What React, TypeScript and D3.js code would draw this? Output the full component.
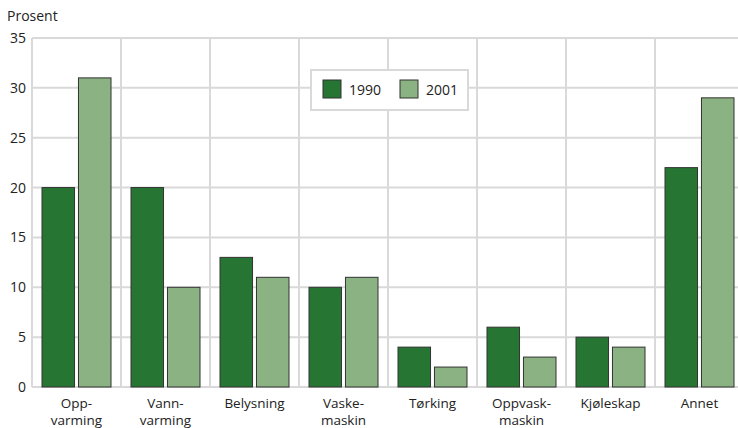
import React from "react";
import * as d3 from "d3";

const categories = [["Opp-", "varming"], ["Vann-", "varming"], ["Belysning"], ["Vaske-", "maskin"], ["Tørking"], ["Oppvask-", "maskin"], ["Kjøleskap"], ["Annet"]];
const series1990 = [20, 20, 13, 10, 4, 6, 5, 22];
const series2001 = [31, 10, 11, 11, 2, 3, 4, 29];
const yTicks = [0, 5, 10, 15, 20, 25, 30, 35];
const seriesNames = ["1990", "2001"];
const colors = ["#267532", "#8bb282"];

export default function App() {
  const W = 738, H = 428;
  const left = 32, right = 744, top = 38, bottom = 387;
  const x = d3.scaleBand<number>().domain(d3.range(categories.length)).range([left, right]).paddingInner(0).paddingOuter(0);
  const inner = d3.scaleBand<number>().domain([0, 1]).range([10, 79]).paddingInner(0.108).paddingOuter(0);
  const y = d3.scaleLinear().domain([0, 35]).range([bottom, top]);
  const font = "'Open Sans', sans-serif";
  return (
    <svg width={W} height={H} style={{ position: "absolute", left: 0, top: 0 }} fontFamily={font}>
      <rect width={W} height={H} fill="#fff" />
      <text x={7} y={21} fontSize={14} fill="#222">Prosent</text>
      {yTicks.map((t) => (
        <g key={t}>
          <line x1={left} x2={right} y1={y(t)} y2={y(t)} stroke="#d9d9d9" strokeWidth={2} />
          <text x={26} y={y(t) + 5} fontSize={14} textAnchor="end" fill="#222">{t}</text>
        </g>
      ))}
      {d3.range(categories.length + 1).map((i) => {
        const xx = i < categories.length ? x(i)! : right;
        return <line key={i} x1={xx} x2={xx} y1={top} y2={bottom} stroke="#d9d9d9" strokeWidth={2} />;
      })}
      {categories.map((c, i) => (
        <g key={i}>
          {[series1990[i], series2001[i]].map((v, s) => (
            <rect key={s} x={x(i)! + inner(s)!} y={y(v)} width={inner.bandwidth()} height={y(0) - y(v)} fill={colors[s]} stroke="#333" strokeWidth={1} />
          ))}
          {c.map((line, li) => (
            <text key={li} x={x(i)! + x.bandwidth() / 2} y={408 + li * 17} fontSize={13.5} textAnchor="middle" fill="#222">{line}</text>
          ))}
        </g>
      ))}
      <g>
        <rect x={311} y={70} width={157} height={40} fill="#fff" stroke="#d9d9d9" strokeWidth={2} />
        {seriesNames.map((n, s) => (
          <g key={n} transform={`translate(${323 + s * 77},80)`}>
            <rect x={0} y={0} width={18} height={18} fill={colors[s]} stroke="#333" strokeWidth={1} />
            <text x={26} y={15} fontSize={14} fill="#222">{n}</text>
          </g>
        ))}
      </g>
    </svg>
  );
}
